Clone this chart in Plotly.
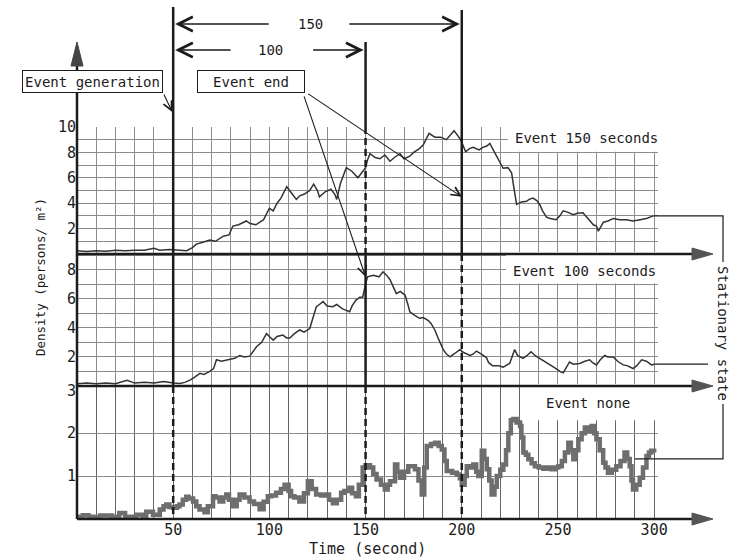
import plotly.graph_objects as go

# ---------------- data ----------------
X_TICKS = [50, 100, 150, 200, 250, 300]
Y_TICKS_150 = [2, 4, 6, 8, 10]
Y_TICKS_100 = [2, 4, 6, 8]
Y_TICKS_NONE = [1, 2, 3]

EVENT_START = 50
EVENT_END_100 = 150
EVENT_END_150 = 200

# Event 150 seconds: (time s, density persons/m2)
EVENT150 = [
    (0, 0.25), (5, 0.2), (10, 0.25), (15, 0.22), (20, 0.3), (25, 0.25), (30, 0.3),
    (35, 0.3), (40, 0.45), (43, 0.3), (48, 0.35), (52, 0.3), (57, 0.26), (60, 0.5),
    (62, 0.78), (65, 0.9), (69, 1.1), (72, 1.0), (76, 1.4), (79, 1.5), (81, 2.2),
    (84, 2.3), (88, 2.6), (90, 2.4), (93, 2.3), (97, 2.7), (100, 3.6), (102, 3.4),
    (104, 4.0), (106, 4.4), (109, 5.3), (111, 4.9), (114, 4.3), (116, 4.6), (118, 4.7),
    (121, 5.0), (123, 5.5), (125, 5.0), (126, 4.5), (129, 4.9), (132, 5.1), (134, 4.7),
    (135, 4.3), (137, 5.6), (140, 6.8), (143, 6.5), (146, 6.0), (148, 6.4), (150, 6.8),
    (151, 7.4), (152.3, 7.9), (155, 7.6), (157.5, 7.5), (160, 7.8), (162.7, 7.3),
    (165, 7.6), (167.9, 7.9), (170, 7.5), (173, 7.7), (175, 8.0), (178, 8.3), (180, 8.6),
    (183, 9.5), (186, 9.2), (189, 9.2), (192, 9.0), (194, 9.35), (196, 9.7), (198, 9.3),
    (199, 9.1), (200, 8.8), (202, 8.05), (204, 8.3), (206, 8.4), (209, 8.2), (211, 8.4),
    (213, 8.5), (214.6, 8.7), (216, 8.3), (218, 7.7), (220, 7.2), (221.5, 6.75),
    (224, 6.8), (225.9, 6.4), (227, 5.3), (228.5, 3.9), (231, 4.1), (233.7, 4.15),
    (235, 4.3), (237, 4.4), (239, 4.2), (240.5, 3.9), (242, 3.4), (244, 2.9), (246, 2.8),
    (249, 2.7), (251, 3.0), (252.7, 3.4), (255, 3.3), (257.9, 3.1), (260, 3.2),
    (263, 3.25), (265, 2.9), (268.4, 2.3), (270, 2.2), (271, 1.8), (273.6, 2.5),
    (276, 2.6), (278.8, 2.8), (282, 2.7), (285.7, 2.7), (289, 2.6), (292.7, 2.7),
    (296, 2.8), (299.6, 3.0),
]

# Event 100 seconds
EVENT100 = [
    (0, 0.15), (5, 0.2), (10, 0.15), (15, 0.2), (20, 0.15), (26, 0.4), (30, 0.2),
    (35, 0.25), (40, 0.2), (45, 0.3), (50, 0.2), (53.5, 0.18), (56, 0.25), (58.7, 0.4),
    (61, 0.6), (63.9, 0.87), (66, 0.8), (69, 1.0), (71, 1.2), (72.5, 1.8), (75, 1.7),
    (79.4, 1.83), (82, 1.9), (84.6, 2.1), (87, 2.0), (89.8, 2.05), (91, 2.3), (93.3, 2.7),
    (96, 3.0), (98.5, 3.6), (100, 3.4), (102, 3.15), (104, 3.4), (107, 3.5), (109, 3.3),
    (110.6, 3.3), (113, 3.6), (115.8, 3.85), (118, 3.7), (121, 3.95), (122, 4.4),
    (124.4, 5.45), (126, 5.6), (127.9, 5.8), (130, 5.5), (133, 5.45), (135, 5.6),
    (138, 5.3), (140, 5.2), (141.7, 5.1), (143, 5.5), (145, 5.9), (147, 6.1), (148.5, 6.1),
    (150, 7.0), (151, 7.5), (154, 7.6), (157, 7.5), (159, 7.85), (161, 7.6), (162.7, 7.3),
    (164, 6.9), (166, 6.35), (168, 6.5), (170.5, 6.25), (172, 5.6), (173, 5.1), (175, 4.9),
    (178, 4.65), (180, 4.7), (182.6, 4.5), (184, 4.3), (186, 3.85), (188, 3.2),
    (190.4, 2.5), (192, 2.2), (193.9, 2.0), (196, 2.2), (199, 2.5), (201, 2.3),
    (204.3, 2.1), (206, 2.2), (207.6, 2.4), (210, 2.2), (212.8, 1.95), (214, 1.6),
    (216, 1.4), (219, 1.4), (221.5, 1.3), (224.9, 1.55), (226, 1.9), (227.5, 2.5),
    (229, 2.1), (231.8, 1.9), (234, 2.1), (236, 2.35), (238, 2.1), (240.5, 1.9),
    (243, 1.7), (245.6, 1.45), (249, 1.2), (251, 1.0), (252.7, 0.9), (254, 1.2),
    (256, 1.65), (258, 1.5), (261.3, 1.55), (264, 1.7), (266.5, 1.8), (268, 1.6),
    (270, 1.45), (272, 1.8), (274.3, 2.1), (276, 2.0), (278.8, 2.0), (281, 1.7),
    (283.9, 1.45), (286, 1.4), (289, 1.2), (291, 1.4), (293.5, 1.8), (296, 1.7),
    (298.6, 1.45), (300, 1.5),
]

# Event none
EVENTNONE = [
    (0, 0.05), (3, 0.09), (6, 0.05), (9, 0.04), (12, 0.08), (15, 0.08), (18, 0.05),
    (22, 0.14), (25, 0.05), (28, 0.05), (31, 0.1), (34, 0.05), (36, 0.17), (39.5, 0.1),
    (43, 0.22), (45, 0.3), (46.4, 0.34), (48, 0.28), (49.9, 0.26), (52, 0.3), (53.3, 0.34),
    (55, 0.45), (56.8, 0.52), (58, 0.48), (60.3, 0.41), (62, 0.3), (63.7, 0.22),
    (66.3, 0.16), (68, 0.3), (70.7, 0.53), (72, 0.5), (74.1, 0.41), (76, 0.5), (77.6, 0.57),
    (79, 0.45), (81, 0.3), (83, 0.45), (84.5, 0.57), (87, 0.5), (89.7, 0.41), (92, 0.35),
    (94.9, 0.23), (97, 0.4), (99.2, 0.53), (101, 0.55), (103.5, 0.61), (106, 0.7),
    (107.9, 0.8), (110, 0.65), (111.3, 0.53), (113, 0.5), (115.6, 0.41), (118, 0.6),
    (120, 0.88), (122, 0.7), (124.3, 0.57), (127, 0.55), (129.5, 0.57), (131, 0.45),
    (133, 0.37), (135, 0.45), (137.3, 0.61), (139, 0.65), (141.6, 0.73), (143, 0.6),
    (145, 0.53), (146.5, 0.8), (148.5, 1.2), (150, 1.25), (152.3, 1.2), (154, 1.05),
    (155.7, 0.92), (158, 0.8), (160, 0.69), (161.5, 0.8), (162.7, 0.88), (165.3, 1.27),
    (166.5, 1.1), (167.9, 0.96), (170, 1.1), (172.2, 1.23), (175.7, 1.16), (177.5, 0.9),
    (179.2, 0.57), (180.5, 1.2), (181.8, 1.7), (184, 1.75), (186.1, 1.78), (188, 1.7),
    (189.6, 1.62), (191, 1.35), (192.2, 1.12), (195, 1.08), (197.4, 1.04), (199, 0.95),
    (200, 0.8), (201.5, 1.0), (202.6, 1.23), (204, 1.2), (206, 1.27), (207.5, 1.1),
    (208.6, 1.0), (210.4, 1.59), (211.7, 1.4), (213, 1.16), (214.3, 0.9), (215.5, 0.57),
    (217, 0.75), (218.2, 1.0), (220, 1.15), (221.6, 1.27), (223, 1.6), (224.2, 2.0),
    (225.5, 2.3), (226.8, 2.33), (228.5, 2.25), (230.3, 2.17), (231, 1.9), (232, 1.55),
    (233.3, 1.5), (234.6, 1.39), (236.3, 1.3), (238, 1.23), (240, 1.2), (242.4, 1.17),
    (244.5, 1.2), (246.7, 1.16), (248.5, 1.2), (250.2, 1.23), (252, 1.35), (253.6, 1.55),
    (255.4, 1.78), (256.7, 1.6), (258, 1.39), (259.3, 1.6), (260.6, 1.86), (262.3, 2.0),
    (264, 2.13), (265.7, 2.05), (267.5, 2.17), (268.8, 2.0), (270, 1.86), (271.7, 1.6),
    (273.5, 1.31), (274.7, 1.2), (276, 1.08), (278, 1.15), (280.3, 1.23), (282.5, 1.35),
    (284.6, 1.55), (286, 1.4), (287.3, 1.23), (288.2, 0.9), (289, 0.69), (290.7, 0.8),
    (292.5, 0.96), (294.2, 1.2), (296, 1.47), (297.3, 1.55), (298.5, 1.59), (300, 1.55),
]

T150_T = [p[0] for p in EVENT150]
T150_V = [p[1] for p in EVENT150]
T100_T = [p[0] for p in EVENT100]
T100_V = [p[1] for p in EVENT100]
TN_T = [p[0] for p in EVENTNONE]
TN_V = [p[1] for p in EVENTNONE]

# ---------------- geometry ----------------
W, H = 732, 560
ML, MR, MT, MB = 77, 74, 40, 41
PW = W - ML - MR
PH = H - MT - MB
XR = [0, 302]


def px2x(p):
    return (p - ML) / PW


def py2y(p):
    return (H - MB - p) / PH


def tx(t):
    return (t - XR[0]) / (XR[1] - XR[0])


DOM = {
    "top": [py2y(254), py2y(127)],
    "mid": [py2y(386), py2y(254)],
    "bot": [0.0, py2y(386)],
}
RNG = {"top": [0, 10], "mid": [0, 9.07], "bot": [0, 3.1]}


def yp(panel, v):
    d0, d1 = DOM[panel]
    r0, r1 = RNG[panel]
    return d0 + (v - r0) / (r1 - r0) * (d1 - d0)


INK = "#1c1c1c"
GRID = "#8c8c8c"
FONT = "DejaVu Sans Mono, monospace"

fig = go.Figure()
fig.add_trace(go.Scatter(x=T150_T, y=T150_V, xaxis="x", yaxis="y", mode="lines",
                         line=dict(color="#333333", width=1.5), showlegend=False))
fig.add_trace(go.Scatter(x=T100_T, y=T100_V, xaxis="x2", yaxis="y2", mode="lines",
                         line=dict(color="#333333", width=1.5), showlegend=False))
fig.add_trace(go.Scatter(x=TN_T, y=TN_V, xaxis="x3", yaxis="y3", mode="lines",
                         line=dict(color="#6e6e6e", width=4.5, shape="hv"), showlegend=False))

xcommon = dict(domain=[0, 1], range=XR, tickvals=X_TICKS, showgrid=True, gridcolor=GRID,
               gridwidth=1, zeroline=False, showline=False, ticks="",
               minor=dict(tick0=0, dtick=10, showgrid=True, gridcolor=GRID, gridwidth=1))
tickfont = dict(family=FONT, size=15, color=INK)

fig.update_layout(
    width=W, height=H,
    margin=dict(l=ML, r=MR, t=MT, b=MB),
    paper_bgcolor="white", plot_bgcolor="white",
    showlegend=False,
    xaxis=dict(anchor="y", showticklabels=False, **xcommon),
    xaxis2=dict(anchor="y2", matches="x", showticklabels=False, **xcommon),
    xaxis3=dict(anchor="y3", matches="x", showticklabels=True, tickfont=tickfont,
                **{k: v for k, v in xcommon.items() if k not in ("gridcolor", "minor")},
                gridcolor="#666666",
                minor=dict(tick0=0, dtick=10, showgrid=True, gridcolor="#666666", gridwidth=1)),
    yaxis=dict(anchor="x", domain=DOM["top"], range=RNG["top"], tickvals=Y_TICKS_150,
               showgrid=True, gridcolor=GRID, zeroline=False, showline=False, ticks="",
               tickfont=tickfont,
               minor=dict(tick0=0, dtick=1, showgrid=True, gridcolor=GRID)),
    yaxis2=dict(anchor="x2", domain=DOM["mid"], range=RNG["mid"], tickvals=Y_TICKS_100,
                showgrid=True, gridcolor=GRID, zeroline=False, showline=False, ticks="",
                tickfont=tickfont,
                minor=dict(tick0=0, dtick=1, showgrid=True, gridcolor=GRID)),
    yaxis3=dict(anchor="x3", domain=DOM["bot"], range=RNG["bot"], tickvals=Y_TICKS_NONE,
                showgrid=False, zeroline=False, showline=False, ticks="",
                tickfont=tickfont,
                minor=dict(tickmode="array", tickvals=[1, 2], showgrid=True, gridcolor=GRID)),
)

shapes = []

# white notches behind the panel labels
for panel, t0, v0 in (("top", 224, 8.05), ("mid", 223, 7.05), ("bot", 233, 2.3)):
    shapes.append(dict(type="rect", xref="paper", yref="paper", layer="above",
                       x0=tx(t0), x1=px2x(662), y0=yp(panel, v0), y1=DOM[panel][1] + 2 / PH,
                       fillcolor="white", line=dict(width=0)))

# vertical axis with arrow
shapes.append(dict(type="line", xref="paper", yref="paper", x0=0, x1=0, y0=0, y1=py2y(62),
                   line=dict(color=INK, width=2.5)))
shapes.append(dict(type="path", xref="paper", yref="paper",
                   path=f"M {-6 / PW},{py2y(66)} L 0,{py2y(42)} L {6 / PW},{py2y(66)} Z",
                   fillcolor="#444444", line=dict(color="#444444", width=1)))

# horizontal baselines with arrows
for panel in ("top", "mid", "bot"):
    yb = DOM[panel][0]
    shapes.append(dict(type="line", xref="paper", yref="paper", x0=0, x1=px2x(696),
                       y0=yb, y1=yb, line=dict(color=INK, width=2.5)))
    shapes.append(dict(type="path", xref="paper", yref="paper",
                       path=(f"M {px2x(692)},{yb + 6 / PH} L {px2x(713)},{yb} "
                             f"L {px2x(692)},{yb - 6 / PH} Z"),
                       fillcolor="#555555", line=dict(color="#555555", width=1)))

# event lines: (time, [(y_from, y_to, dash)])
event_segments = [
    (EVENT_START, [(py2y(7), DOM["mid"][0], "solid"), (DOM["mid"][0], 0, "7px,4px")]),
    (EVENT_END_100, [(py2y(42), DOM["top"][1], "solid"), (DOM["top"][1], DOM["top"][0], "7px,4px"),
                     (DOM["top"][0], DOM["mid"][0], "solid"), (DOM["mid"][0], 0, "7px,4px")]),
    (EVENT_END_150, [(py2y(10), DOM["top"][0], "solid"), (DOM["top"][0], 0, "7px,4px")]),
]
for t, segs in event_segments:
    for y0, y1, dash in segs:
        shapes.append(dict(type="line", xref="paper", yref="paper", x0=tx(t), x1=tx(t),
                           y0=y0, y1=y1, line=dict(color=INK, width=2.5, dash=dash)))

# stationary state bracket
xr_b = px2x(723)
shapes.append(dict(type="path", xref="paper", yref="paper",
                   path=(f"M {tx(T150_T[-1])},{yp('top', T150_V[-1])} L {xr_b},{yp('top', T150_V[-1])} "
                         f"L {xr_b},{py2y(262)}"),
                   line=dict(color=INK, width=1.2)))
shapes.append(dict(type="line", xref="paper", yref="paper",
                   x0=tx(T100_T[-1]), x1=px2x(708), y0=yp("mid", T100_V[-1]), y1=yp("mid", T100_V[-1]),
                   line=dict(color=INK, width=1.2)))
shapes.append(dict(type="path", xref="paper", yref="paper",
                   path=(f"M {tx(290)},{yp('bot', 1.4)} L {xr_b},{yp('bot', 1.4)} "
                         f"L {xr_b},{py2y(404)}"),
                   line=dict(color=INK, width=1.2)))

fig.update_layout(shapes=shapes)

ann = []
C = dict(xanchor="center", yanchor="middle")
boxfont = dict(family=FONT, size=14, color=INK)
ann.append(dict(text="Event generation", xref="paper", yref="paper", x=px2x(92.5), y=py2y(81.5),
                showarrow=False, font=boxfont, bordercolor=INK, borderwidth=1, borderpad=1,
                width=137, height=19, bgcolor="white", **C))
ann.append(dict(text="Event end", xref="paper", yref="paper", x=px2x(251), y=py2y(81.5),
                showarrow=False, font=boxfont, bordercolor=INK, borderwidth=1, borderpad=1,
                width=104, height=19, bgcolor="white", **C))
ann.append(dict(text="150", xref="paper", yref="paper", x=px2x(310), y=py2y(24),
                showarrow=False, font=boxfont, **C))
ann.append(dict(text="100", xref="paper", yref="paper", x=px2x(270), y=py2y(50),
                showarrow=False, font=boxfont, **C))

arrow_style = dict(showarrow=True, arrowhead=5, arrowsize=2.2, arrowwidth=1.3, arrowcolor=INK,
                   text="", axref="pixel", ayref="pixel")
# duration arrows
ann.append(dict(xref="x", yref="paper", x=EVENT_START + 1, y=py2y(24), ax=95, ay=0, **arrow_style))
ann.append(dict(xref="x", yref="paper", x=EVENT_END_150 - 1, y=py2y(24), ax=-112, ay=0, **arrow_style))
ann.append(dict(xref="x", yref="paper", x=EVENT_START + 1, y=py2y(50), ax=57, ay=0, **arrow_style))
ann.append(dict(xref="x", yref="paper", x=EVENT_END_100 - 1, y=py2y(50), ax=-52, ay=0, **arrow_style))

small_arrow = dict(showarrow=True, arrowhead=5, arrowsize=1.6, arrowwidth=1.1, arrowcolor=INK,
                   text="", axref="pixel", ayref="pixel")
ann.append(dict(xref="x2", yref="y2", x=EVENT_END_100, y=7.5, ax=-62, ay=-182, **small_arrow))
ann.append(dict(xref="x", yref="y", x=EVENT_END_150, y=4.5, ax=-155, ay=-104, **small_arrow))
ann.append(dict(xref="x", yref="paper", x=EVENT_START - 0.5, y=py2y(112), ax=-9, ay=-19, **small_arrow))

labfont = dict(family=FONT, size=14, color=INK)
ann.append(dict(text="Event 150 seconds", xref="paper", yref="paper", x=px2x(586), y=py2y(138),
                showarrow=False, font=labfont, bgcolor="white", **C))
ann.append(dict(text="Event 100 seconds", xref="paper", yref="paper", x=px2x(584), y=py2y(271),
                showarrow=False, font=labfont, bgcolor="white", **C))
ann.append(dict(text="Event none", xref="paper", yref="paper", x=px2x(588), y=py2y(403),
                showarrow=False, font=labfont, bgcolor="white", **C))
ann.append(dict(text="Stationary state", xref="paper", yref="paper", x=px2x(723), y=py2y(333),
                textangle=90, showarrow=False, font=labfont, **C))
ann.append(dict(text="Density (persons/ m²)", xref="paper", yref="paper", x=px2x(40), y=py2y(277),
                textangle=-90, showarrow=False, font=dict(family=FONT, size=12.5, color=INK), **C))
ann.append(dict(text="Time (second)", xref="paper", yref="paper", x=px2x(367), y=py2y(549),
                showarrow=False, font=dict(family=FONT, size=15, color=INK), **C))

fig.update_layout(annotations=ann)
fig.write_html("out.html", config={"displayModeBar": False},
               post_script="document.body.style.margin='0px';")
